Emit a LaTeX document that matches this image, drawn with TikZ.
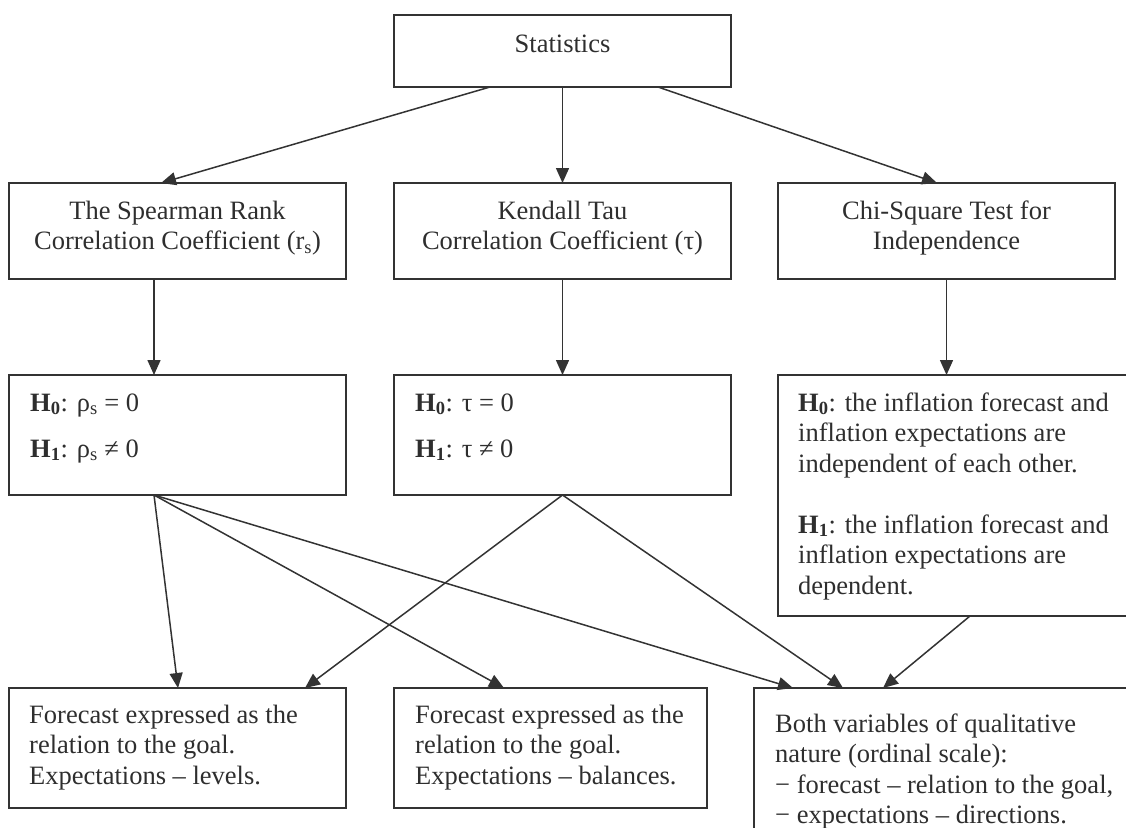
\documentclass[tikz,border=0pt]{standalone}
\usepackage{fontspec}
\setmainfont{Liberation Serif}
\usetikzlibrary{arrows.meta}
\definecolor{ln}{HTML}{333333}
\definecolor{tx}{HTML}{2E2E2E}
\newcommand{\Hz}{\textbf{H}\textsubscript{\textbf{0}}}
\newcommand{\Ho}{\textbf{H}\textsubscript{\textbf{1}}}
\begin{document}
\begin{tikzpicture}[x=1pt,y=-1pt,
  box/.style={draw=ln, line width=1.7pt, rectangle, inner sep=0pt, outer sep=0pt, anchor=north west},
  txt/.style={text=tx, inner sep=0pt, font=\fontsize{26.5pt}{30.5pt}\selectfont},
  ctr/.style={txt, anchor=base},
  lft/.style={txt, anchor=base west},
  arr/.style={draw=ln, line width=1.5pt, -{Triangle[length=15pt,width=13pt]}}
]
\path[use as bounding box] (0,0) rectangle (1126,827);
\clip (0,0) rectangle (1126,827);

% boxes
\node[box, minimum width=337pt, minimum height=72pt] (stat) at (394,15) {};
\node[box, minimum width=337pt, minimum height=96pt] (sp) at (9,183) {};
\node[box, minimum width=337pt, minimum height=96pt] (kd) at (394,183) {};
\node[box, minimum width=337pt, minimum height=96pt] (chi) at (778,183) {};
\node[box, minimum width=337pt, minimum height=120pt] (hsp) at (9,375) {};
\node[box, minimum width=337pt, minimum height=120pt] (hkd) at (394,375) {};
\node[box, minimum width=370pt, minimum height=241pt] (hchi) at (778,375) {};
\node[box, minimum width=337pt, minimum height=120pt] (b1) at (9,688) {};
\node[box, minimum width=313pt, minimum height=120pt] (b2) at (394,688) {};
\node[box, minimum width=420pt, minimum height=200pt] (b3) at (754,688) {};

% texts
\node[ctr] (tstat) at (562.5,52) {Statistics};
\node[ctr] (tsp) at (177.5,219) {\parbox[t]{330pt}{\centering The Spearman Rank\\Correlation Coefficient (r\textsubscript{s})}};
\node[ctr] (tkd) at (562.5,219) {\parbox[t]{330pt}{\centering Kendall Tau\\Correlation Coefficient (τ)}};
\node[ctr] (tchi) at (946.5,219) {\parbox[t]{330pt}{\centering Chi-Square Test for\\Independence}};
\node[lft] (thsp) at (30,411) {\parbox[t]{300pt}{\raggedright \Hz: ρ\textsubscript{s} = 0\\[15.5pt]\Ho: ρ\textsubscript{s} ≠ 0}};
\node[lft] (thkd) at (415,411) {\parbox[t]{300pt}{\raggedright \Hz: τ = 0\\[15.5pt]\Ho: τ ≠ 0}};
\node[lft] (thchi) at (798,411) {\parbox[t]{330pt}{\raggedright \Hz: the inflation forecast and\\inflation expectations are\\independent of each other.\\[30.5pt]\Ho: the inflation forecast and\\inflation expectations are\\dependent.}};
\node[lft] (tb1) at (29,723) {\parbox[t]{310pt}{\raggedright Forecast expressed as the\\relation to the goal.\\Expectations – levels.}};
\node[lft] (tb2) at (415,723) {\parbox[t]{290pt}{\raggedright Forecast expressed as the\\relation to the goal.\\Expectations – balances.}};
\node[lft] (tb3) at (775,732) {\parbox[t]{350pt}{\raggedright Both variables of qualitative\\nature (ordinal scale):\\− forecast – relation to the goal,\\− expectations – directions.}};

% connectors
\draw[arr] ([xshift=96pt]stat.south west) -- ([xshift=152pt]sp.north west);
\draw[arr] (stat.south) -- (kd.north);
\draw[arr] ([xshift=264pt]stat.south west) -- ([xshift=159pt]chi.north west);
\draw[arr] ([xshift=145pt]sp.south west) -- ([xshift=145pt]hsp.north west);
\draw[arr] (kd.south) -- (hkd.north);
\draw[arr] (chi.south) -- ([xshift=168.5pt]hchi.north west);
\draw[arr] ([xshift=145pt]hsp.south west) -- ([xshift=169pt]b1.north west);
\draw[arr] ([xshift=145pt]hsp.south west) -- ([xshift=110pt]b2.north west);
\draw[arr] ([xshift=145pt]hsp.south west) -- ([xshift=39pt]b3.north west);
\draw[arr] (hkd.south) -- ([xshift=296pt]b1.north west);
\draw[arr] (hkd.south) -- ([xshift=89pt]b3.north west);
\draw[arr] ([xshift=192pt]hchi.south west) -- ([xshift=129pt]b3.north west);
\end{tikzpicture}
\end{document}
